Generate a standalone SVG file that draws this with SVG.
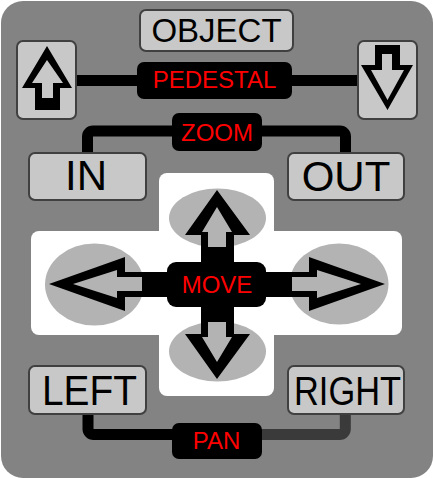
<svg xmlns="http://www.w3.org/2000/svg" width="433" height="478" viewBox="0 0 433 478">
<style>
.btn{fill:#c8c8c8;stroke:#404040;stroke-width:2}
.lbl{fill:#000}
.bt{font-family:"Liberation Sans",Arial,sans-serif;fill:#000;text-anchor:middle}
.rt{font-family:"Liberation Sans",Arial,sans-serif;fill:#ff0000;text-anchor:middle;font-size:24px}
.arr{fill:#000;fill-rule:evenodd}
.ell{fill:#b3b3b3}
.wire{fill:none;stroke:#000;stroke-width:11}
</style>
<rect id="body" x="1" y="1" width="432" height="477" rx="22" fill="#838383"/>
<g id="connectors">
  <path class="wire" d="M76,80.5 H358"/>
  <path class="wire" d="M87.5,155 V136.5 A5.5,5.5 0 0 1 93,131 H340 A5.5,5.5 0 0 1 345.5,136.5 V155"/>
  <path class="wire" d="M88,412 V429 A5.5,5.5 0 0 0 93.5,434.5 H180"/>
  <path class="wire" style="stroke:#3a3a3a" d="M345.3,412 V429 A5.5,5.5 0 0 1 339.8,434.5 H255"/>
</g>
<g id="object">
  <rect class="btn" x="140" y="10" width="153" height="41" rx="6"/>
  <text class="bt" x="216.5" y="42" font-size="33">OBJECT</text>
</g>
<g id="pedestal-up">
  <rect class="btn" x="17" y="41" width="59" height="78" rx="6"/>
  <path class="arr" d="M47,46 L72,88 L60,88 L60,110 L35,110 L35,88 L22,88 Z M47,60 L63,83 L53,83 L53,98 L42,98 L42,83 L32,83 Z"/>
</g>
<g id="pedestal-down">
  <rect class="btn" x="358" y="41" width="59" height="78" rx="6"/>
  <path class="arr" d="M375,45 L400,45 L400,65 L413,65 L387.5,110 L361,65 L375,65 Z M382,54 L392,54 L392,70 L404,70 L387.5,100 L371,70 L382,70 Z"/>
</g>
<g id="pedestal">
  <rect class="lbl" x="137" y="62" width="155" height="37" rx="7"/>
  <text class="rt" x="214.5" y="88">PEDESTAL</text>
</g>
<g id="zoom">
  <rect class="lbl" x="172" y="113" width="90" height="38" rx="7"/>
  <text class="rt" x="217" y="140.5">ZOOM</text>
</g>
<g id="in">
  <rect class="btn" x="29" y="153" width="117" height="47" rx="6"/>
  <text class="bt" x="86" y="190" font-size="42">IN</text>
</g>
<g id="out">
  <rect class="btn" x="288" y="153" width="116" height="47" rx="6"/>
  <text class="bt" x="346" y="191" font-size="42">OUT</text>
</g>
<g id="move-pad">
  <rect x="159" y="173" width="115" height="223" rx="8" fill="#fff"/>
  <rect x="31" y="231" width="371" height="104" rx="8" fill="#fff"/>
  <ellipse class="ell" cx="217.5" cy="218" rx="48.5" ry="29.5"/>
  <ellipse class="ell" cx="217.5" cy="351.5" rx="48.5" ry="30"/>
  <ellipse class="ell" cx="94.5" cy="284.5" rx="49.5" ry="41"/>
  <ellipse class="ell" cx="339" cy="284" rx="49.5" ry="40.5"/>
  <path class="arr" d="M217,190 L250,235 L234,235 L234,265 L201,265 L201,235 L185,235 Z M217,207 L232,232 L226,232 L226,247 L208,247 L208,232 L202,232 Z"/>
  <path class="arr" d="M217,379 L250,334 L234,334 L234,304 L201,304 L201,334 L185,334 Z M217,362 L232,337 L226,337 L226,322 L208,322 L208,337 L202,337 Z"/>
  <path class="arr" d="M49,284 L125,257 L125,272 L170,272 L170,297 L125,297 L125,311 Z M73,284 L117,270 L117,277 L142,277 L142,291 L117,291 L117,298 Z"/>
  <path class="arr" d="M385,284 L309,257 L309,272 L264,272 L264,297 L309,297 L309,311 Z M361,284 L317,270 L317,277 L292,277 L292,291 L317,291 L317,298 Z"/>
</g>
<g id="move">
  <rect class="lbl" x="167" y="262" width="99" height="45" rx="9"/>
  <text class="rt" x="217" y="292.5">MOVE</text>
</g>
<g id="left">
  <rect class="btn" x="29" y="366" width="117" height="48" rx="6"/>
  <text class="bt" x="89.5" y="405" font-size="42" textLength="95" lengthAdjust="spacingAndGlyphs">LEFT</text>
</g>
<g id="right">
  <rect class="btn" x="288" y="366" width="116" height="48" rx="6"/>
  <text class="bt" x="347.5" y="405" font-size="41" textLength="107" lengthAdjust="spacingAndGlyphs">RIGHT</text>
</g>
<g id="pan">
  <rect class="lbl" x="172" y="423" width="90" height="36" rx="7"/>
  <text class="rt" x="216.5" y="449">PAN</text>
</g>
</svg>
